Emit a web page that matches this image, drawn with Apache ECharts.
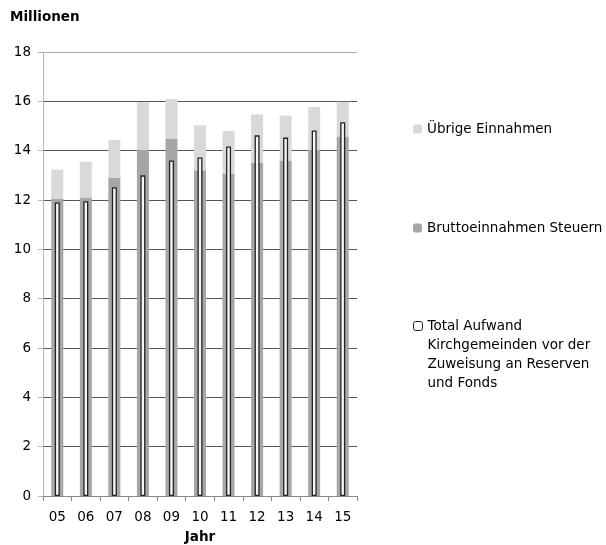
<!DOCTYPE html>
<html>
<head>
<meta charset="utf-8">
<script src="https://cdn.jsdelivr.net/npm/echarts@6/dist/echarts.min.js"></script>
<style>html,body{margin:0;padding:0;background:#fff}#c{width:606px;height:545px}</style>
</head>
<body>
<div id="c"></div>
<script>
const years = ['05','06','07','08','09','10','11','12','13','14','15'];
const steuern = [12.04, 12.10, 12.89, 14.05, 14.49, 13.21, 13.07, 13.51, 13.60, 14.05, 14.57];
const uebrige = [1.19, 1.45, 1.54, 1.91, 1.60, 1.82, 1.73, 1.96, 1.82, 1.72, 1.41];
const aufwand = [11.90, 11.95, 12.52, 13.00, 13.60, 13.72, 14.17, 14.62, 14.53, 14.82, 15.15];
const nameUebrige = 'Übrige Einnahmen';
const nameSteuern = 'Bruttoeinnahmen Steuern';
const nameAufwand = 'Total Aufwand Kirchgemeinden vor der Zuweisung an Reserven und Fonds';
const aufwandLines = ['Total Aufwand', 'Kirchgemeinden vor der', 'Zuweisung an Reserven', 'und Fonds'];

const FONT = 'DejaVu Sans';
const chart = echarts.init(document.getElementById('c'), null, {renderer: 'canvas'});
const legendText = {fontFamily: FONT, fontSize: 13.5, color: '#000', lineHeight: 19};
const gridColors = ['#555','#555','#555','#555','#555','#555','#555','#555','#555','#aaa'];

chart.setOption({
  animation: false,
  textStyle: {fontFamily: FONT},
  title: {text: 'Millionen', left: 10, top: 10, padding: 0,
    textStyle: {fontFamily: FONT, fontSize: 13.5, fontWeight: 'bold', color: '#000'}},
  grid: {left: 43, right: 249, top: 52, bottom: 49, containLabel: false, outerBoundsMode: 'none'},
  legend: [
    {data: [nameUebrige], orient: 'vertical', left: 413, top: 119.5, padding: 0,
     itemWidth: 9, itemHeight: 9, textStyle: legendText, selectedMode: false},
    {data: [nameSteuern], orient: 'vertical', left: 413, top: 218.5, padding: 0,
     itemWidth: 9, itemHeight: 9, textStyle: legendText, selectedMode: false},
    {data: [{name: nameAufwand, itemStyle: {color: '#fff', borderColor: '#222', borderWidth: 1}}],
     orient: 'vertical', left: 413, top: 259.5, padding: 0,
     itemWidth: 9, itemHeight: 9, selectedMode: false,
     formatter: () => '{s| }\n' + aufwandLines.map(l => '{a|' + l + '}').join('\n'),
     textStyle: Object.assign({}, legendText, {
       rich: {
         s: {fontSize: 1, lineHeight: 57},
         a: {fontFamily: FONT, fontSize: 13.5, color: '#000', lineHeight: 19}
       }
     })}
  ],
  xAxis: [
    {type: 'category', data: years, name: 'Jahr', nameLocation: 'middle', nameGap: 34,
     nameTextStyle: {fontFamily: FONT, fontSize: 13.5, fontWeight: 'bold', color: '#000'},
     axisLine: {lineStyle: {color: '#888', width: 1}},
     axisTick: {show: true, length: 5, lineStyle: {color: '#888'}},
     axisLabel: {fontFamily: FONT, fontSize: 13.5, color: '#000', margin: 14}},
    {type: 'category', data: years, show: false, position: 'bottom'}
  ],
  yAxis: {type: 'value', min: 0, max: 18, interval: 2,
    axisLine: {show: true, lineStyle: {color: '#b5b5b5'}},
    axisTick: {show: true, length: 5, lineStyle: {color: '#b5b5b5'}},
    axisLabel: {fontFamily: FONT, fontSize: 13.5, color: '#000', margin: 12},
    splitLine: {show: true, lineStyle: {color: gridColors, width: 1}}},
  series: [
    {name: nameSteuern, type: 'bar', stack: 'ein', data: steuern, barWidth: 12,
     xAxisIndex: 0, itemStyle: {color: '#a6a6a6'}},
    {name: nameUebrige, type: 'bar', stack: 'ein', data: uebrige, barWidth: 12,
     xAxisIndex: 0, itemStyle: {color: '#d9d9d9'}},
    {name: nameAufwand, type: 'bar', data: aufwand, barWidth: 5, xAxisIndex: 1, z: 3,
     itemStyle: {color: '#f7f7f7', borderColor: '#222', borderWidth: 1.3}}
  ]
});
</script>
</body>
</html>
